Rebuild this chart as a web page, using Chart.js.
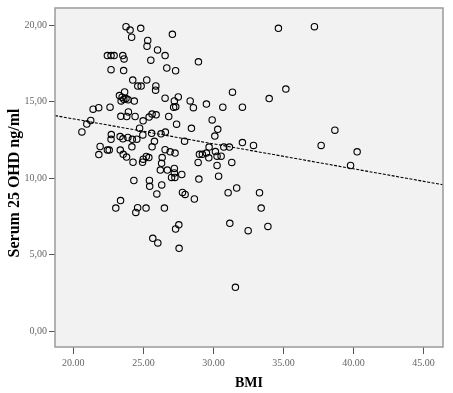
<!DOCTYPE html>
<html>
<head>
<meta charset="utf-8">
<script src="https://cdn.jsdelivr.net/npm/chart.js@4"></script>
<style>
  html, body { margin: 0; padding: 0; background: #fff; }
</style>
</head>
<body>
<canvas id="scatter" width="453" height="393"></canvas>
<script>
// BMI (x) and Serum 25 OHD ng/ml (y)
const bmi = [
  23.76, 24.05, 24.81, 24.16, 25.31, 25.26, 26.01, 22.43, 22.69, 22.91,
  23.53, 23.62, 25.53, 22.69, 23.59, 24.24, 25.24, 24.60, 24.84, 25.89,
  25.87, 23.66, 23.29, 23.48, 23.60, 23.76, 23.91, 23.41, 24.35, 27.07,
  26.55, 26.67, 27.30, 28.93, 26.55, 27.49, 27.21, 28.34, 31.36, 35.17,
  33.98, 34.64, 37.21, 21.41, 21.81, 22.62, 23.39, 23.81, 24.41, 23.93,
  24.98, 25.41, 25.62, 25.91, 26.81, 27.37, 24.73, 20.96, 21.24, 27.16,
  27.31, 28.57, 29.50, 30.67, 32.07, 28.43, 29.91, 30.31, 38.67, 20.61,
  22.71, 22.69, 23.34, 23.54, 23.89, 24.21, 24.53, 24.96, 25.59, 26.26,
  26.57, 25.79, 25.62, 30.10, 27.94, 32.07, 32.86, 30.74, 31.14, 29.69,
  26.91, 27.26, 26.55, 29.00, 29.21, 29.50, 30.14, 29.67, 30.26, 30.55,
  28.91, 31.31, 30.26, 21.91, 21.82, 22.43, 22.56, 23.35, 23.56, 23.80,
  24.18, 24.26, 24.99, 24.94, 25.21, 25.39, 26.34, 26.30, 37.69, 40.26,
  39.79, 26.71, 26.21, 27.21, 27.21, 27.01, 27.25, 27.74, 28.96, 30.37,
  24.32, 25.43, 25.45, 26.31, 25.96, 27.79, 27.98, 28.64, 31.05, 31.66,
  33.29, 23.37, 23.03, 24.59, 24.46, 25.19, 26.50, 33.41, 27.53, 27.30,
  31.17, 32.48, 33.89, 25.67, 26.03, 27.55, 31.57
];
const ohd = [
  19.91, 19.69, 19.80, 19.22, 19.01, 18.63, 18.39, 18.02, 18.02, 18.02,
  18.02, 17.80, 17.72, 17.10, 17.04, 16.42, 16.43, 16.03, 16.03, 16.04,
  15.76, 15.64, 15.41, 15.30, 15.17, 15.21, 15.13, 15.06, 15.05, 19.41,
  18.02, 17.21, 17.03, 17.61, 15.24, 15.32, 15.06, 15.06, 15.63, 15.83,
  15.21, 19.80, 19.91, 14.52, 14.62, 14.65, 14.05, 14.04, 14.04, 14.34,
  13.76, 14.00, 14.20, 14.15, 14.04, 13.54, 13.28, 13.55, 13.78, 14.64,
  14.67, 14.62, 14.85, 14.65, 14.65, 13.27, 13.82, 13.20, 13.15, 13.03,
  12.86, 12.55, 12.73, 12.58, 12.67, 12.55, 12.56, 12.84, 12.94, 12.91,
  13.02, 12.42, 12.06, 12.76, 12.43, 12.34, 12.15, 12.04, 12.04, 12.04,
  11.73, 11.65, 11.87, 11.57, 11.57, 11.65, 11.75, 11.34, 11.45, 11.45,
  11.04, 11.04, 10.84, 12.08, 11.55, 11.85, 11.85, 11.85, 11.57, 11.39,
  12.06, 11.05, 11.25, 11.05, 11.43, 11.36, 11.36, 10.98, 12.15, 11.73,
  10.84, 10.54, 10.54, 10.65, 10.35, 10.06, 10.06, 10.25, 9.95, 10.14,
  9.86, 9.86, 9.48, 9.57, 8.98, 9.08, 8.95, 8.65, 9.06, 9.37,
  9.06, 8.55, 8.06, 8.08, 7.77, 8.06, 8.06, 8.06, 6.96, 6.69,
  7.06, 6.58, 6.86, 6.08, 5.78, 5.43, 2.88
];

// ends of the fitted line, at the plot edges
const fitBmi = [18.69, 46.39];
const fitOhd = [14.10, 9.58];

const xTicks = [20, 25, 30, 35, 40, 45];
const yTicks = [0, 5, 10, 15, 20];

const yTitle = 'Serum 25 OHD ng/ml';

// grey plot background, frame, and the y title (sits a bit below centre in the original)
const plotFrame = {
  id: 'plotFrame',
  beforeDraw(chart) {
    const { ctx, chartArea: a } = chart;
    ctx.save();
    ctx.fillStyle = '#f2f2f2';
    ctx.fillRect(a.left, a.top, a.right - a.left, a.bottom - a.top);
    ctx.restore();
  },
  afterDraw(chart) {
    const { ctx, chartArea: a } = chart;
    ctx.save();
    ctx.strokeStyle = '#9a9a9a';
    ctx.lineWidth = 1.5;
    ctx.strokeRect(a.left, a.top, a.right - a.left, a.bottom - a.top);

    ctx.translate(15, 183);
    ctx.rotate(-Math.PI / 2);
    ctx.font = 'bold 16px "Liberation Serif"';
    ctx.fillStyle = '#000';
    ctx.textAlign = 'center';
    ctx.textBaseline = 'middle';
    ctx.fillText(yTitle, 0, 0);
    ctx.restore();
  }
};

const tickFont = { family: 'Liberation Serif', size: 10 };

const ctx = document.getElementById('scatter').getContext('2d');
const myChart = new Chart(ctx, {
  type: 'scatter',
  data: {
    datasets: [
      {
        data: bmi.map((v, i) => ({ x: v, y: ohd[i] })),
        pointRadius: 3.2,
        pointBorderWidth: 1.1,
        pointBorderColor: '#000',
        pointBackgroundColor: 'rgba(0,0,0,0)',
      },
      {
        type: 'line',
        data: fitBmi.map((v, i) => ({ x: v, y: fitOhd[i] })),
        borderColor: '#000',
        borderWidth: 1.1,
        borderDash: [3, 1.5],
        pointRadius: 0,
        fill: false,
      }
    ]
  },
  options: {
    responsive: false,
    animation: false,
    events: [],
    layout: { padding: { left: 0, top: 8, right: 10, bottom: 0 } },
    plugins: {
      legend: { display: false },
      tooltip: { enabled: false }
    },
    scales: {
      x: {
        type: 'linear',
        min: 18.69,
        max: 46.39,
        afterBuildTicks: s => { s.ticks = xTicks.map(v => ({ value: v })); },
        afterFit: s => { s.height = 46; },
        ticks: {
          callback: v => v.toFixed(2),
          font: tickFont,
          color: '#666',
          padding: 3,
          maxRotation: 0
        },
        grid: { drawOnChartArea: false, drawTicks: true, tickLength: 7, color: '#555' },
        border: { display: false },
        title: {
          display: true,
          text: 'BMI',
          font: { family: 'Liberation Serif', weight: 'bold', size: 14 },
          color: '#000',
          padding: { top: 0, bottom: 1 }
        }
      },
      y: {
        type: 'linear',
        min: -1.02,
        max: 21.13,
        afterBuildTicks: s => { s.ticks = yTicks.map(v => ({ value: v })); },
        afterFit: s => { s.width = 55; },
        ticks: {
          callback: v => v.toFixed(2).replace('.', ','),
          font: tickFont,
          color: '#666',
          padding: 2
        },
        grid: { drawOnChartArea: false, drawTicks: true, tickLength: 6, color: '#555' },
        border: { display: false }
      }
    }
  },
  plugins: [plotFrame]
});
</script>
</body>
</html>
